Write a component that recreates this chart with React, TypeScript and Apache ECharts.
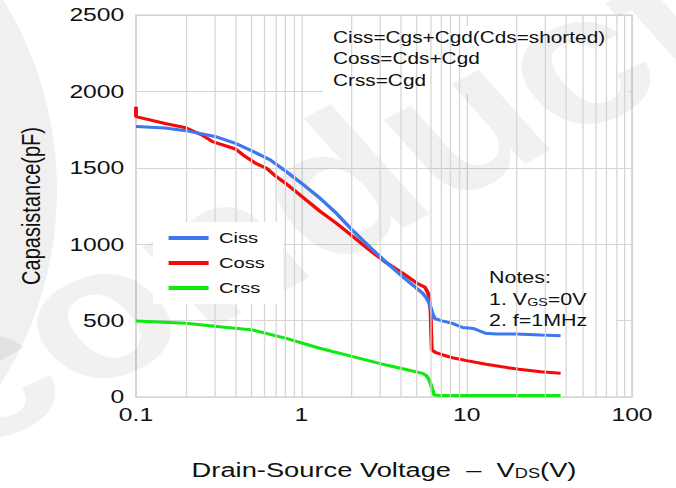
import React, { useEffect, useRef } from 'react';
import * as echarts from 'echarts';

// V_DS (V), capacitance (pF)
const cissData: [number, number][] = [
  [0.1, 1770], [0.15, 1760], [0.2, 1743], [0.3, 1705], [0.4, 1660], [0.5, 1612],
  [0.65, 1551], [0.8, 1480], [1.0, 1400], [1.3, 1300], [1.63, 1202], [2.0, 1100],
  [2.58, 983], [3.2, 890], [4.1, 787], [5.0, 710], [5.42, 679], [5.7, 650],
  [5.95, 613], [6.2, 550], [6.4, 515], [7.0, 500], [8.2, 482], [9.45, 455],
  [11, 448], [11.5, 440], [13, 417], [15, 412], [20, 412], [28, 405], [37, 401],
];
const cossData: [number, number][] = [
  [0.1, 1900], [0.1, 1835], [0.15, 1790], [0.2, 1762], [0.25, 1715], [0.29, 1671],
  [0.4, 1623], [0.45, 1580], [0.53, 1529], [0.62, 1495], [0.7, 1445], [0.8, 1400],
  [1.07, 1289], [1.3, 1215], [1.63, 1137], [2.0, 1060], [2.58, 962], [3.2, 885],
  [4.1, 810], [5.0, 745], [5.6, 718], [5.9, 670], [6.05, 560], [6.1, 420],
  [6.15, 308], [6.5, 290], [7.2, 275], [8.2, 257], [10, 238], [13.1, 214],
  [20.7, 181], [28, 165], [37, 155],
];
const crssData: [number, number][] = [
  [0.1, 497], [0.2, 482], [0.32, 460], [0.51, 438], [0.81, 384], [1.29, 319],
  [2.05, 264], [3.26, 209], [4.5, 175], [5.42, 155], [5.7, 140], [5.95, 111],
  [6.2, 50], [6.37, 13], [7, 9], [37, 9],
];
const minorGridX = [
  0.2, 0.3, 0.4, 0.5, 0.6, 0.7, 0.8, 0.9,
  2, 3, 4, 5, 6, 7, 8, 9,
  20, 30, 40, 50, 60, 70, 80, 90,
];
const seriesNames = ['Ciss', 'Coss', 'Crss'];
const seriesColors = ['#3d78f0', '#f50a0a', '#12e812'];
const formulaLines = ['Ciss=Cgs+Cgd(Cds=shorted)', 'Coss=Cds+Cgd', 'Crss=Cgd'];

const FONT = '"Liberation Sans", Arial, sans-serif';
// the reference picture is stretched horizontally; draw narrower and stretch with CSS
const SX = 1.3;
const W = 676 / SX;

export default function App() {
  const ref = useRef<HTMLDivElement>(null);
  useEffect(() => {
    if (!ref.current) return;
    const chart = echarts.init(ref.current, undefined, { renderer: 'svg' });
    const gridColor = '#d6d6d6';
    const px = (x: number) => x / SX;
    const option: any = {
      animation: false,
      backgroundColor: '#ffffff',
      textStyle: { fontFamily: FONT },
      grid: { left: px(136), right: W - px(632), top: 15, bottom: 91, show: true, borderColor: '#c4c4c4', borderWidth: 1, backgroundColor: 'transparent' },
      legend: {
        orient: 'vertical', left: px(153), top: 222, padding: [6, 14, 6, 12],
        itemWidth: px(205 - 165), itemHeight: 4, itemGap: 5, icon: 'rect',
        backgroundColor: '#ffffff', z: 6,
        data: seriesNames,
        textStyle: { fontSize: 15.5, lineHeight: 20, fontFamily: FONT, color: '#111', padding: [0, 0, 0, 3] },
      },
      xAxis: {
        type: 'log', logBase: 10, min: 0.1, max: 100,
        axisLine: { show: false }, axisTick: { show: false },
        splitLine: { show: true, lineStyle: { color: gridColor, width: 1 } },
        axisLabel: { fontSize: 19, color: '#111', margin: 8, fontFamily: FONT, formatter: (v: number) => String(v) },
        name: '{a|Drain-Source Voltage  –  V}{s|DS}{a|(V)}',
        nameLocation: 'middle', nameGap: 59,
        nameTextStyle: {
          rich: {
            a: { fontSize: 21, color: '#111', fontFamily: FONT, verticalAlign: 'bottom', lineHeight: 24 },
            s: { fontSize: 14, color: '#111', fontFamily: FONT, verticalAlign: 'bottom', lineHeight: 20 },
          },
        },
      },
      yAxis: {
        type: 'value', min: 0, max: 2500, interval: 500,
        axisLine: { show: false }, axisTick: { show: false },
        splitLine: { show: true, lineStyle: { color: gridColor, width: 1 } },
        axisLabel: { fontSize: 19, color: '#111', margin: 9, fontFamily: FONT, formatter: (v: number) => String(v) },
        name: 'Capasistance(pF)', nameLocation: 'middle', nameGap: 71, nameRotate: 90,
        nameTextStyle: { fontSize: 20, color: '#111', fontFamily: FONT },
      },
      series: [
        {
          name: 'minorGrid', type: 'line', data: [[0.1, 0]], z: 1, silent: true,
          symbol: 'none', lineStyle: { width: 0, opacity: 0 },
          markLine: {
            silent: true, symbol: ['none', 'none'], label: { show: false },
            lineStyle: { color: gridColor, type: 'solid', width: 1 },
            emphasis: { disabled: true },
            data: minorGridX.map((v) => ({ xAxis: v })),
          },
        },
        { name: 'Crss', type: 'line', data: crssData, z: 3, symbol: 'none', color: seriesColors[2], lineStyle: { width: 3, color: seriesColors[2] } },
        { name: 'Coss', type: 'line', data: cossData, z: 3, symbol: 'none', color: seriesColors[1], lineStyle: { width: 3, color: seriesColors[1] } },
        { name: 'Ciss', type: 'line', data: cissData, z: 3, symbol: 'none', color: seriesColors[0], lineStyle: { width: 3, color: seriesColors[0] } },
      ],
      graphic: {
        elements: [
          { type: 'rect', silent: true, z: 2, shape: { x: px(323), y: 26, width: px(629 - 323), height: 68 }, style: { fill: '#ffffff' } },
          { type: 'rect', silent: true, z: 2, shape: { x: px(476), y: 263, width: px(616 - 476), height: 70 }, style: { fill: '#ffffff' } },
          { type: 'ellipse', silent: true, z: 2, shape: { cx: px(-305), cy: 190, rx: px(362), ry: 362 }, style: { fill: 'rgba(0,0,0,0.06)' } },
          {
            type: 'text', silent: true, z: 2, x: px(-10), y: 480, rotation: 0.6,
            style: { text: 'conductor', font: `bold 185px ${FONT}`, fill: 'rgba(0,0,0,0.055)', verticalAlign: 'bottom' },
          },
          ...formulaLines.map((t, i) => ({
            type: 'text', z: 7, x: px(333), y: 37 + i * 21.5,
            style: { text: t, font: `16px ${FONT}`, fill: '#111', verticalAlign: 'middle' },
          })),
          { type: 'text', z: 7, x: px(489), y: 277, style: { text: 'Notes:', font: `16.5px ${FONT}`, fill: '#111', verticalAlign: 'middle' } },
          {
            type: 'text', z: 7, x: px(489), y: 299,
            style: {
              text: '{a|1. V}{s|GS}{a|=0V}', fill: '#111', verticalAlign: 'middle',
              rich: {
                a: { fontSize: 16.5, fontFamily: FONT, fill: '#111', verticalAlign: 'bottom', lineHeight: 18 },
                s: { fontSize: 11, fontFamily: FONT, fill: '#111', verticalAlign: 'bottom', lineHeight: 15 },
              },
            },
          },
          { type: 'text', z: 7, x: px(489), y: 320, style: { text: '2. f=1MHz', font: `16.5px ${FONT}`, fill: '#111', verticalAlign: 'middle' } },
        ],
      },
    };
    chart.setOption(option);
    return () => chart.dispose();
  }, []);
  return (
    <div style={{ position: 'absolute', left: 0, top: 0, width: 676, height: 488, overflow: 'hidden', background: '#fff' }}>
      <div ref={ref} style={{ width: W, height: 488, transform: `scaleX(${SX})`, transformOrigin: '0 0' }} />
    </div>
  );
}
